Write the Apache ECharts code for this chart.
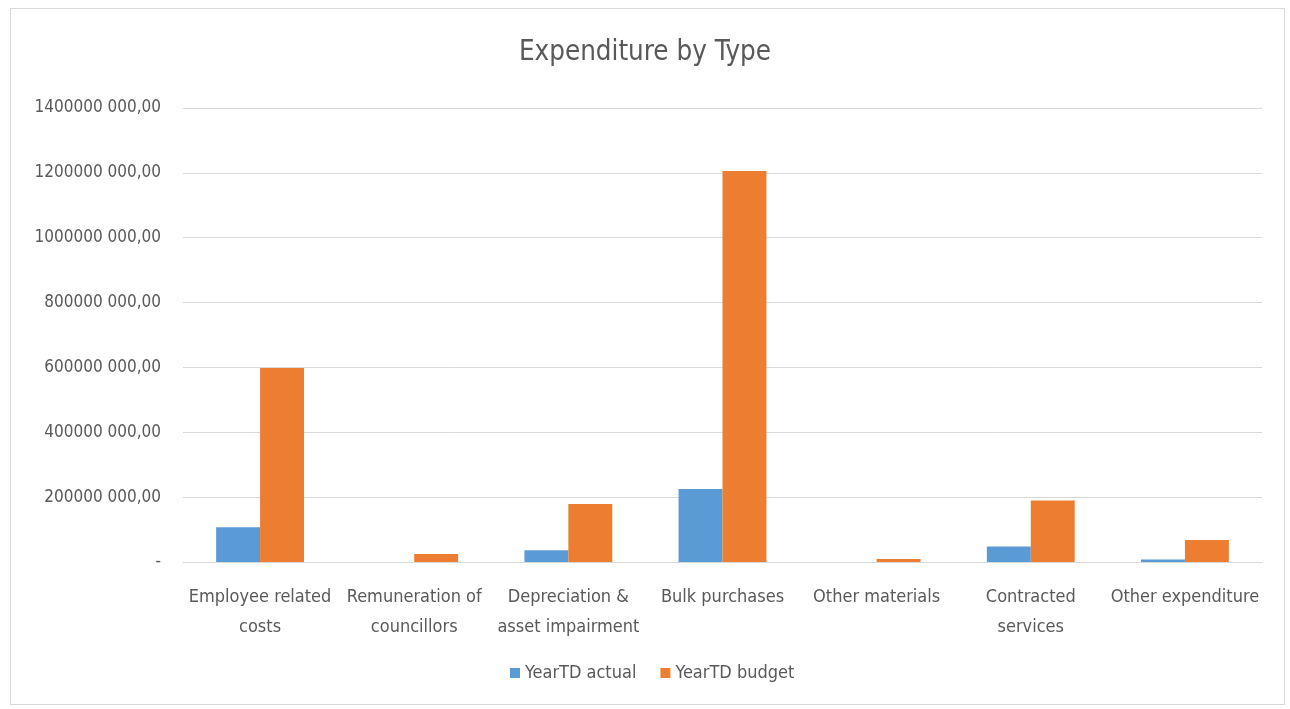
<!DOCTYPE html>
<html><head><meta charset="utf-8">
<script src="https://cdn.jsdelivr.net/npm/echarts@6/dist/echarts.min.js"></script>
<style>html,body{margin:0;padding:0;background:#fff}#c{width:1290px;height:709px}
#frame{position:absolute;left:10px;top:8px;width:1275px;height:697px;border:1px solid #d9d9d9;box-sizing:border-box;pointer-events:none}</style>
</head><body><div id="c"></div><div id="frame"></div>
<script>
const categories = ["Employee related\ncosts","Remuneration of\ncouncillors","Depreciation &\nasset impairment","Bulk purchases","Other materials","Contracted\nservices","Other expenditure"];
const yearTDActual = [107000000, 0, 36000000, 225000000, 0, 48000000, 8000000];
const yearTDBudget = [598000000, 25000000, 179000000, 1206000000, 9000000, 190000000, 68000000];
const seriesNames = ["YearTD actual","YearTD budget"];
const FONT = "'Liberation Sans Narrow','DejaVu Sans Condensed','Open Sans',sans-serif";
function fmt(v){ if(v===0) return "-"; const t=Math.floor(v/1000); const r=String(v%1000).padStart(3,"0"); return t+" "+r+",00"; }
const chart = echarts.init(document.getElementById('c'));
chart.setOption({
  animation:false,
  title:{text:"Expenditure by Type",left:'center',top:34,padding:[5,5,5,9],textStyle:{fontFamily:FONT,fontSize:27.5,fontWeight:'normal',color:'#595959'}},
  grid:{left:183,right:28,top:108,bottom:147},
  legend:{bottom:22,left:505,itemWidth:10,itemHeight:10,itemGap:24,icon:'rect',textStyle:{fontFamily:FONT,fontSize:18,color:'#595959'},data:seriesNames},
  xAxis:{type:'category',data:categories,axisTick:{show:false},axisLine:{lineStyle:{color:'#d9d9d9',width:1}},
    axisLabel:{fontFamily:FONT,fontSize:18,color:'#595959',lineHeight:30,margin:20,interval:0}},
  yAxis:{type:'value',min:0,max:1400000000,interval:200000000,axisLine:{show:false},axisTick:{show:false},
    splitLine:{lineStyle:{color:'#d9d9d9',width:1}},
    axisLabel:{fontFamily:FONT,fontSize:17,color:'#595959',margin:22,formatter:fmt}},
  series:[
    {name:seriesNames[0],type:'bar',data:yearTDActual,itemStyle:{color:'#5B9BD5'},barGap:'0%',barCategoryGap:'43%'},
    {name:seriesNames[1],type:'bar',data:yearTDBudget,itemStyle:{color:'#ED7D31'},barGap:'0%',barCategoryGap:'43%'}
  ]
});
</script></body></html>
